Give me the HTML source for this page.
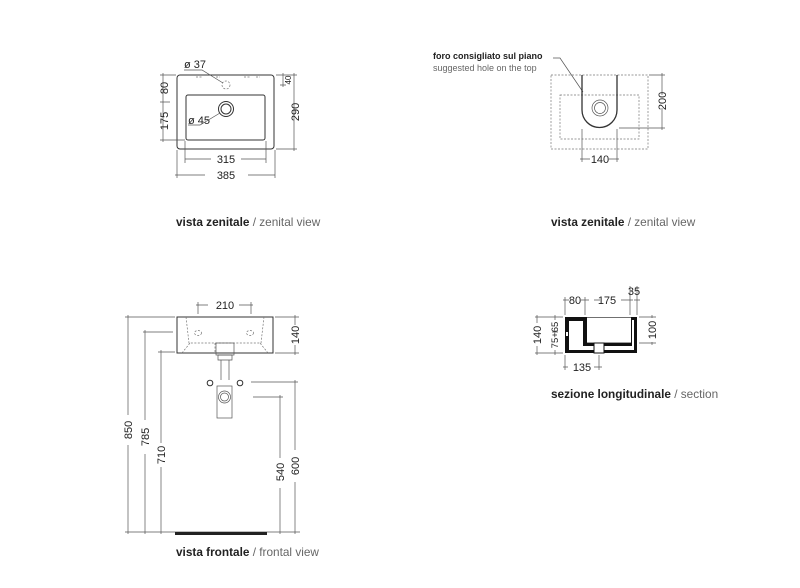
<!DOCTYPE html>
<html><head><meta charset="utf-8"><style>
html,body{margin:0;padding:0;background:#fff;}
svg{display:block;}
text{font-family:"Liberation Sans",sans-serif;fill:#222;}
.d{font-size:11px;}
.l{stroke:#555;stroke-width:0.7;fill:none;}
.o{stroke:#333;stroke-width:1;fill:none;}
.ds{stroke:#777;stroke-width:0.7;fill:none;stroke-dasharray:2,1.5;}
.lab{font-size:11.8px;}
.g{fill:#666;}
</style></head><body>
<svg width="800" height="588" viewBox="0 0 800 588" xmlns="http://www.w3.org/2000/svg">
<!-- TOP LEFT VIEW -->
<rect x="177" y="75" width="97" height="74" rx="3" class="o"/>
<rect x="186" y="95" width="79" height="45" rx="2" class="o"/>
<circle cx="226" cy="109" r="7.5" class="o"/>
<circle cx="226" cy="109" r="5" class="o"/>
<circle cx="226" cy="85" r="4" class="ds"/>
<path d="M196 77h6 M216 77h4 M244 77h6 M256 77h4" class="ds"/>
<text x="184" y="68" class="d">ø 37</text>
<path d="M184 70h18l21 13" class="l"/>
<text x="188" y="124" class="d">ø 45</text>
<path d="M188 125h12l20-12" class="l"/>
<path d="M163 73v69 M160 75h16 M160 102h10 M160 140h25" class="l"/>
<text transform="translate(168,88) rotate(-90)" text-anchor="middle" class="d">80</text>
<text transform="translate(168,121) rotate(-90)" text-anchor="middle" class="d">175</text>
<path d="M294 73v78 M276 75h21 M276 149h21 M283 73v14 M280 75h6 M280 85h6" class="l"/>
<text transform="translate(299,112) rotate(-90)" text-anchor="middle" class="d">290</text>
<text transform="translate(291,80) rotate(-90)" text-anchor="middle" style="font-size:8px">40</text>
<path d="M185 141v22 M266 141v22 M177 150v28 M275 150v28" class="l"/>
<path d="M185 159h26 M241 159h25 M175 175h30 M248 175h27" class="l"/>
<text x="226" y="163" text-anchor="middle" class="d">315</text>
<text x="226" y="179" text-anchor="middle" class="d">385</text>
<text x="176" y="226" class="lab"><tspan font-weight="bold">vista zenitale</tspan><tspan class="g"> / zenital view</tspan></text>

<!-- TOP RIGHT VIEW -->
<text x="433" y="59" style="font-size:9px;font-weight:bold">foro consigliato sul piano</text>
<text x="433" y="71" style="font-size:9px" class="g">suggested hole on the top</text>
<path d="M553 58h7l23 34" class="l"/>
<rect x="551" y="75" width="97" height="74" class="ds"/>
<rect x="560" y="95" width="79" height="44" class="ds"/>
<path d="M582 75v35a17.5 17.5 0 0 0 35 0v-35" stroke="#333" stroke-width="1.3" fill="none"/>
<circle cx="600" cy="108" r="8" class="l"/>
<circle cx="600" cy="108" r="5.5" class="l"/>
<path d="M649 75h16 M619 128h46 M662 73v22 M662 108v22" class="l"/>
<text transform="translate(666,101) rotate(-90)" text-anchor="middle" class="d">200</text>
<path d="M582 129v33 M617 129v33 M580 159h10 M609 159h10" class="l"/>
<text x="600" y="163" text-anchor="middle" class="d">140</text>
<text x="551" y="226" class="lab"><tspan font-weight="bold">vista zenitale</tspan><tspan class="g"> / zenital view</tspan></text>

<!-- FRONT VIEW -->
<rect x="177" y="317" width="96" height="36" class="o"/>
<path d="M186 317l3 26h72l3-26 M182 353l8-10 M268 353l-8-10 M215 343v10" class="ds"/>
<ellipse cx="198" cy="333" rx="3.5" ry="2.5" class="ds"/>
<ellipse cx="250" cy="333" rx="3.5" ry="2.5" class="ds"/>
<rect x="216" y="343" width="18" height="12" class="l"/>
<path d="M218 355h14v5h-14z M221 360v20 M229 360v20" class="l"/>
<circle cx="210" cy="383" r="2.8" class="o"/>
<circle cx="240" cy="383" r="2.8" class="o"/>
<rect x="217" y="386" width="15" height="32" class="l"/>
<circle cx="224.5" cy="397" r="6" class="l"/>
<circle cx="224.5" cy="397" r="4" class="l"/>
<path d="M198 302v12 M251 302v12 M196 305h12 M239 305h14" class="l"/>
<text x="225" y="309" text-anchor="middle" class="d">210</text>
<path d="M275 317h24 M275 353h24 M295 315v10 M295 345v10" class="l"/>
<text transform="translate(299,335) rotate(-90)" text-anchor="middle" class="d">140</text>
<path d="M125 317h50 M143 332h30 M158 352h17 M125 532h175" class="l"/>
<path d="M128 315v100 M128 445v89 M145 330v90 M145 454v80 M161 350v93 M161 467v67" class="l"/>
<text transform="translate(132,430) rotate(-90)" text-anchor="middle" class="d">850</text>
<text transform="translate(149,437) rotate(-90)" text-anchor="middle" class="d">785</text>
<text transform="translate(165,455) rotate(-90)" text-anchor="middle" class="d">710</text>
<rect x="175" y="532" width="92" height="3" fill="#222"/>
<path d="M251 382h47 M253 397h30 M295 380v70 M295 482v52 M280 395v63 M280 488v46" class="l"/>
<text transform="translate(299,466) rotate(-90)" text-anchor="middle" class="d">600</text>
<text transform="translate(284,472) rotate(-90)" text-anchor="middle" class="d">540</text>
<text x="176" y="556" class="lab"><tspan font-weight="bold">vista frontale</tspan><tspan class="g"> / frontal view</tspan></text>

<!-- SECTION -->
<rect x="565" y="317" width="72" height="36" fill="#111"/>
<rect x="569" y="321" width="14" height="29" fill="#fff"/>
<rect x="569" y="346" width="65" height="4" fill="#fff"/>
<rect x="632" y="320" width="2" height="30" fill="#fff"/>
<rect x="587" y="317.6" width="44" height="25" fill="#fff"/>
<rect x="594" y="343" width="10" height="10" fill="#fff" stroke="#111" stroke-width="1"/>
<rect x="566" y="332" width="2" height="4" fill="#fff"/>
<path d="M565 297v18 M585 297v18 M630 286v29 M637 286v29 M563 300h6 M581 300h8 M600 300h-6 M621 300h12 M634 300h6" class="l"/>
<text x="575" y="304" text-anchor="middle" class="d">80</text>
<text x="607" y="304" text-anchor="middle" class="d">175</text>
<text x="634" y="295" text-anchor="middle" class="d">35</text>
<path d="M535 317h28 M535 353h28 M537 315v8 M537 346v9 M555 315v5 M555 350v5 M552 332h6" class="l"/>
<text transform="translate(541,335) rotate(-90)" text-anchor="middle" class="d">140</text>
<text transform="translate(558,335) rotate(-90)" text-anchor="middle" style="font-size:9.5px">75+65</text>
<path d="M639 317h17 M639 343h17 M652 315v3 M652 342v3" class="l"/>
<text transform="translate(656,330) rotate(-90)" text-anchor="middle" class="d">100</text>
<path d="M565 355v15 M599 355v15 M563 367h5 M594 367h8" class="l"/>
<text x="582" y="371" text-anchor="middle" class="d">135</text>
<text x="551" y="398" class="lab"><tspan font-weight="bold">sezione longitudinale</tspan><tspan class="g"> / section</tspan></text>
</svg>
</body></html>
